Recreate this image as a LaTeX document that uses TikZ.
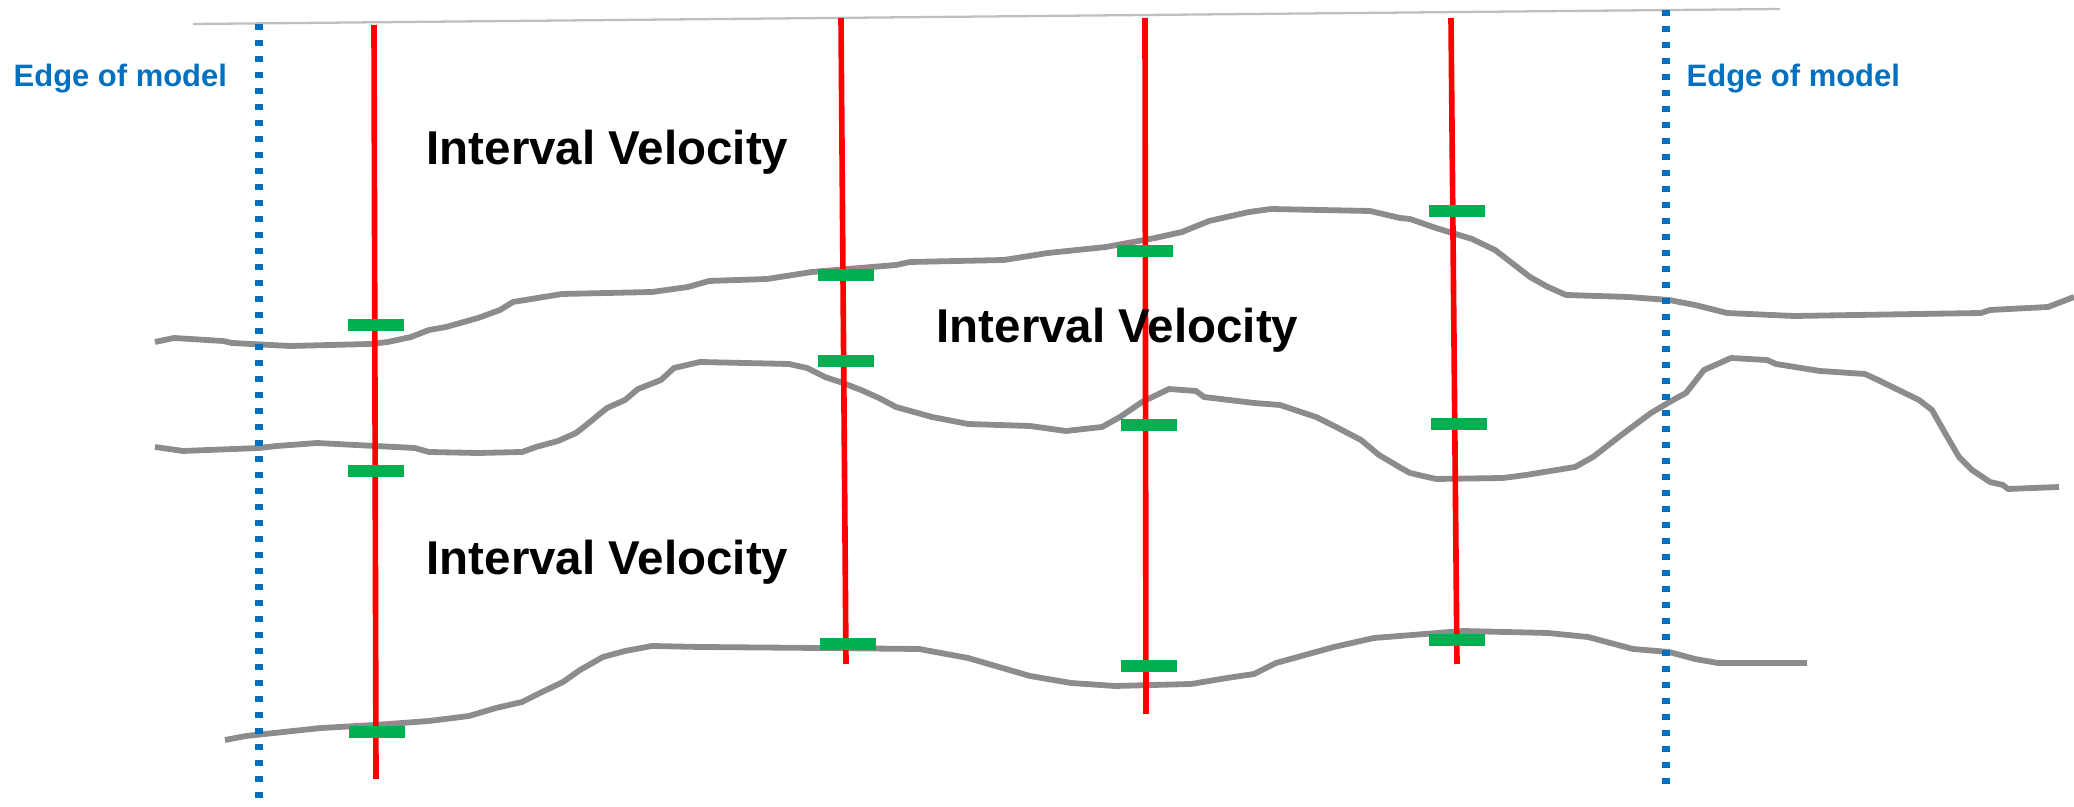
\documentclass[tikz,border=0pt]{standalone}
\usepackage{fontspec}
\setmainfont{Liberation Sans}
\definecolor{edgeblue}{HTML}{0070C0}
\definecolor{tickgreen}{HTML}{00B050}
\definecolor{horizongrey}{HTML}{8C8C8C}
\definecolor{topgrey}{HTML}{BFBFBF}
\tikzset{
  horizon/.style={draw=horizongrey, line width=1.65pt, line join=round},
  well/.style={draw=red, line width=1.6pt},
  edgeline/.style={draw=edgeblue, line width=2pt, dash pattern=on 1.75pt off 2.8pt},
  tick/.style={fill=tickgreen, draw=none},
  velo/.style={font=\bfseries\fontsize{13.5}{15}\selectfont, inner sep=0pt, anchor=base west},
  edgelabel/.style={font=\bfseries\fontsize{8.8}{10}\selectfont, text=edgeblue, inner sep=0pt, anchor=base west}
}
\newcommand{\greentick}[2]{\fill[tick] (#1-28,#2-6) rectangle (#1+28,#2+6);}
\begin{document}
\begin{tikzpicture}[x=0.01cm, y=-0.01cm]
\useasboundingbox (0,0) rectangle (2074,807);
% top line
\draw[topgrey, line width=0.65pt] (193,24) -- (1780,9);
% horizons
\draw[horizon] plot coordinates {(155,342) (174,338) (223,341) (232,343) (290,346) (370,344) (388,342) (411,337) (429,330) (446,327) (478,318) (500,310) (513,302) (562,294) (652,292) (688,287) (709,281) (767,279) (812,272) (896,265) (910,262) (1004,260) (1048,253) (1106,247) (1155,238) (1182,232) (1209,221) (1249,212) (1271,209) (1370,211) (1400,218) (1410,219) (1436,228) (1472,239) (1495,250) (1508,260) (1530,277) (1548,287) (1566,295) (1628,297) (1669,300) (1695,305) (1727,313) (1794,316) (1981,313) (1990,310) (2048,307) (2074,297)};
\draw[horizon] plot coordinates {(155,447) (183,451) (259,448) (277,446) (317,443) (375,446) (415,448) (429,452) (478,453) (522,452) (536,447) (558,441) (576,433) (585,426) (607,408) (625,400) (638,389) (661,380) (674,368) (700,362) (789,364) (807,368) (825,377) (843,383) (861,390) (879,398) (896,407) (932,417) (968,424) (1030,426) (1066,431) (1102,427) (1120,417) (1142,402) (1169,389) (1196,391) (1204,397) (1254,403) (1280,405) (1316,417) (1338,428) (1361,440) (1379,455) (1401,468) (1410,473) (1436,479) (1503,478) (1526,475) (1575,467) (1593,457) (1624,433) (1651,413) (1673,400) (1686,393) (1704,370) (1731,358) (1767,360) (1776,364) (1820,371) (1865,374) (1878,380) (1919,400) (1932,410) (1945,433) (1959,457) (1972,470) (1990,482) (2003,485) (2008,489) (2059,487)};
\draw[horizon] plot coordinates {(225,740) (246,736) (321,728) (375,725) (429,721) (469,716) (496,708) (522,702) (540,693) (563,682) (580,670) (603,657) (625,651) (652,646) (700,647) (820,648) (919,649) (968,658) (1030,676) (1071,683) (1115,686) (1191,684) (1227,678) (1254,674) (1276,663) (1334,647) (1374,638) (1463,631) (1548,633) (1588,637) (1633,649) (1669,652) (1695,659) (1718,663) (1807,663)};
% edges of model
\draw[edgeline] (259,24) -- (259,805);
\draw[edgeline] (1666,10) -- (1666,787);
% wells
\coordinate (w1t) at (374,25); \coordinate (w1b) at (376,779);
\coordinate (w2t) at (841,18); \coordinate (w2b) at (846,664);
\coordinate (w3t) at (1145,18); \coordinate (w3b) at (1146,714);
\coordinate (w4t) at (1451,18); \coordinate (w4b) at (1457,664);
\draw[well] (w1t) -- (w1b);
\draw[well] (w2t) -- (w2b);
\draw[well] (w3t) -- (w3b);
\draw[well] (w4t) -- (w4b);
% ticks
\greentick{376}{325}
\greentick{376}{471}
\greentick{377}{732}
\greentick{846}{275}
\greentick{846}{361}
\greentick{848}{644}
\greentick{1145}{251}
\greentick{1149}{425}
\greentick{1149}{666}
\greentick{1457}{211}
\greentick{1459}{424}
\greentick{1457}{640}
% labels
\node[edgelabel] (edgeL) at (13,87) {Edge of model};
\node[edgelabel] (edgeR) at (1686,87) {Edge of model};
\node[velo] (v1) at (426,165) {Interval Velocity};
\node[velo] (v2) at (936,343) {Interval Velocity};
\node[velo] (v3) at (426,575) {Interval Velocity};
\end{tikzpicture}
\end{document}
